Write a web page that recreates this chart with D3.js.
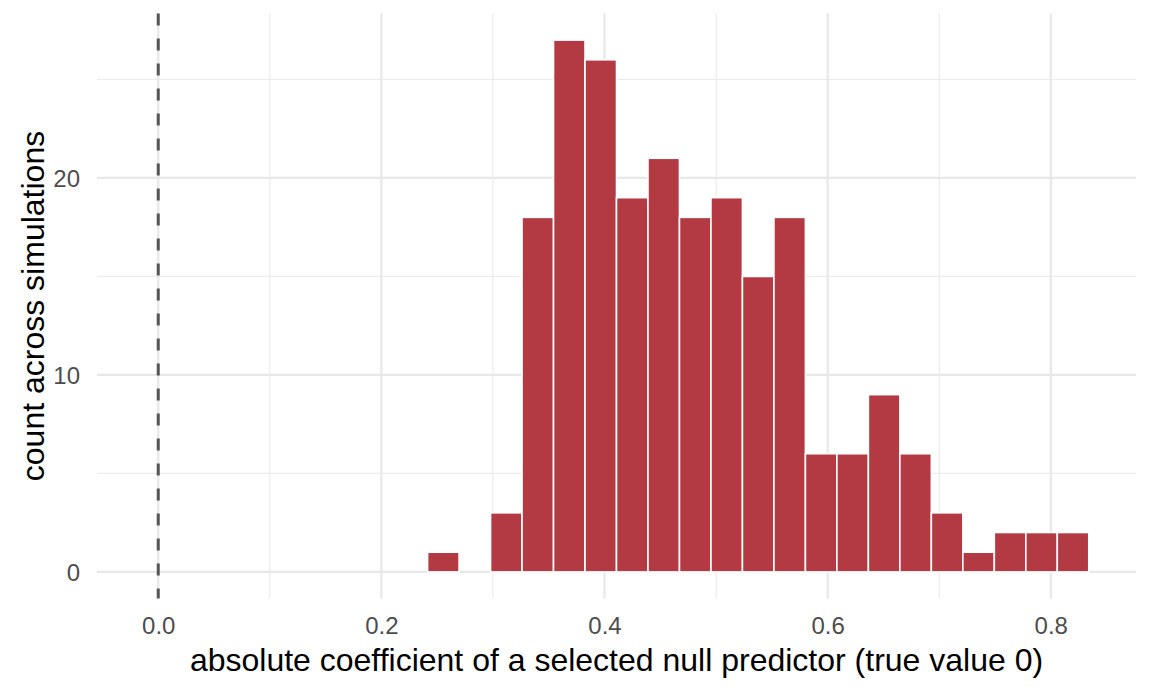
<!DOCTYPE html>
<html><head><meta charset="utf-8">
<script src="https://cdn.jsdelivr.net/npm/d3@7"></script>
<style>body{margin:0;background:#fff}</style>
</head><body>
<svg id="chart" width="1152" height="691"></svg>
<script>
// histogram: 30 bins
const binStart = -0.01256;
const binWidth = 0.02822;
const counts = [0,0,0,0,0,0,0,0,0,1,0,3,18,27,26,19,21,18,19,15,18,6,6,9,6,3,1,2,2,2];
const xTicks = [0.0, 0.2, 0.4, 0.6, 0.8];
const xMinor = [0.1, 0.3, 0.5, 0.7];
const yTicks = [0, 10, 20];
const yMinor = [5, 15, 25];
const refLine = 0;
const xTitle = "absolute coefficient of a selected null predictor (true value 0)";
const yTitle = "count across simulations";

(function () {
const bins = counts.map((c, i) => ({x0: binStart + i * binWidth, x1: binStart + (i + 1) * binWidth, n: c}));

const svg = d3.select("#chart");
const pLeft = 97, pRight = 1136, pTop = 13.5, pBottom = 598.5;
const xMin = bins[0].x0, xMax = bins[bins.length - 1].x1;
const xPad = (xMax - xMin) * 0.05;
const yMax = d3.max(counts);
const x = d3.scaleLinear().domain([xMin - xPad, xMax + xPad]).range([pLeft, pRight]);
const y = d3.scaleLinear().domain([-yMax * 0.05, yMax * 1.05]).range([pBottom, pTop]);

const font = "'Liberation Sans', Arial, Helvetica, sans-serif";
const g = svg.append("g");

// minor grid
g.selectAll(".xminor").data(xMinor).join("line")
  .attr("x1", d => x(d)).attr("x2", d => x(d)).attr("y1", pTop).attr("y2", pBottom)
  .attr("stroke", "#ebebeb").attr("stroke-width", 1.2);
g.selectAll(".yminor").data(yMinor).join("line")
  .attr("y1", d => y(d)).attr("y2", d => y(d)).attr("x1", pLeft).attr("x2", pRight)
  .attr("stroke", "#ebebeb").attr("stroke-width", 1.2);
// major grid
g.selectAll(".xmajor").data(xTicks).join("line")
  .attr("x1", d => x(d)).attr("x2", d => x(d)).attr("y1", pTop).attr("y2", pBottom)
  .attr("stroke", "#e8e8e8").attr("stroke-width", 2.3);
g.selectAll(".ymajor").data(yTicks).join("line")
  .attr("y1", d => y(d)).attr("y2", d => y(d)).attr("x1", pLeft).attr("x2", pRight)
  .attr("stroke", "#e8e8e8").attr("stroke-width", 2.3);

// bars
g.selectAll(".bar").data(bins).join("rect")
  .attr("x", d => x(d.x0)).attr("width", d => x(d.x1) - x(d.x0))
  .attr("y", d => y(d.n)).attr("height", d => y(0) - y(d.n))
  .attr("fill", "#b33a42").attr("stroke", "#ffffff").attr("stroke-width", 1.6);

// reference line
g.append("line")
  .attr("x1", x(refLine)).attr("x2", x(refLine)).attr("y1", pTop).attr("y2", pBottom)
  .attr("stroke", "#555555").attr("stroke-width", 3).attr("stroke-dasharray", "12,13");

// tick labels
const xAxis = d3.axisBottom(x).tickValues(xTicks).tickFormat(d3.format(".1f")).tickSize(0).tickPadding(0);
const xa = svg.append("g").attr("transform", `translate(0,${pBottom})`).call(xAxis);
xa.select(".domain").remove();
xa.selectAll("text").attr("dy", null).attr("y", 35).attr("fill", "#4d4d4d")
  .style("font-family", font).style("font-size", "24px");

const yAxis = d3.axisLeft(y).tickValues(yTicks).tickSize(0).tickPadding(0);
const ya = svg.append("g").attr("transform", `translate(${pLeft - 17},0)`).call(yAxis);
ya.select(".domain").remove();
ya.selectAll("text").attr("dy", "0.35em").attr("x", 0).attr("fill", "#4d4d4d")
  .style("font-family", font).style("font-size", "24px");

// titles
svg.append("text").attr("x", (pLeft + pRight) / 2).attr("y", 671)
  .attr("text-anchor", "middle").style("font-family", font).style("font-size", "32px")
  .attr("fill", "#000").text(xTitle);
svg.append("text").attr("transform", `translate(44,${(pTop + pBottom) / 2}) rotate(-90)`)
  .attr("text-anchor", "middle").style("font-family", font).style("font-size", "32px")
  .attr("fill", "#000").text(yTitle);
})();
</script>
</body></html>
